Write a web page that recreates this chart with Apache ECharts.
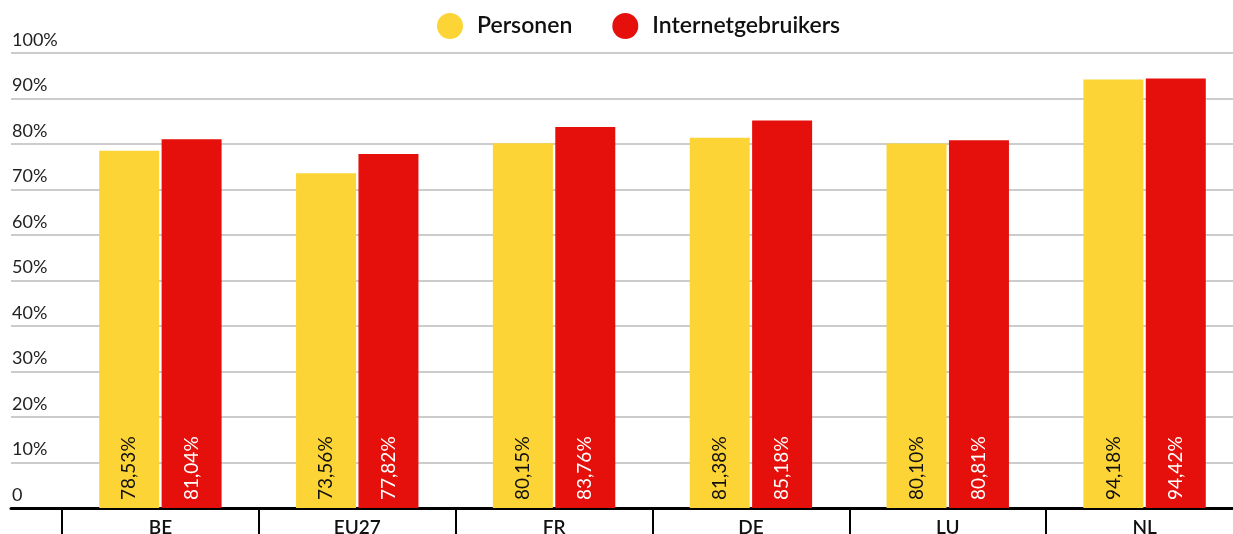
<!DOCTYPE html>
<html>
<head>
<meta charset="utf-8">
<script src="https://cdn.jsdelivr.net/npm/echarts@6/dist/echarts.min.js"></script>
<style>
  html, body { margin: 0; padding: 0; background: #fff; }
  #chart { width: 1233px; height: 534px; }
</style>
</head>
<body>
<div id="chart"></div>
<script>
const categories = ['BE', 'EU27', 'FR', 'DE', 'LU', 'NL']
const personen = [78.53, 73.56, 80.15, 81.38, 80.10, 94.18]
const gebruikers = [81.04, 77.82, 83.76, 85.18, 80.81, 94.42]
const seriesNames = ['Personen', 'Internetgebruikers']

const FONT = 'Lato, "DejaVu Sans", sans-serif'
const YELLOW = '#fdd435'
const RED = '#e5100c'

const pct = v => v.toFixed(2).replace('.', ',') + '%'

const barLabel = color => ({
  show: true,
  position: 'insideBottom',
  rotate: 90,
  align: 'left',
  verticalAlign: 'middle',
  distance: 8,
  color,
  fontFamily: FONT,
  fontSize: 19,
  formatter: p => pct(p.value)
})

const chart = echarts.init(document.getElementById('chart'))
chart.setOption({
  animation: false,
  textStyle: { fontFamily: FONT },
  legend: {
    left: 432,
    top: 8,
    icon: 'circle',
    itemWidth: 26,
    itemHeight: 26,
    itemGap: 40,
    textStyle: { fontSize: 23, fontWeight: 600, color: '#111', padding: [0, 0, 0, 9] },
    data: seriesNames
  },
  grid: [
    { left: 62, width: 1181, top: 53, bottom: 26, outerBoundsMode: 'none', containLabel: false },
    { left: 11, right: 0, top: 53, bottom: 26 }
  ],
  xAxis: [
    {
      type: 'category',
      gridIndex: 0,
      data: categories,
      axisLine: { show: false },
      axisTick: { show: true, length: 26, lineStyle: { color: '#000', width: 2 } },
      axisLabel: { color: '#111', fontSize: 19, fontWeight: 600, margin: 10 }
    },
    {
      type: 'category',
      gridIndex: 1,
      data: categories,
      axisLine: { show: true, lineStyle: { color: '#000', width: 3 } },
      axisTick: { show: false },
      axisLabel: { show: false }
    }
  ],
  yAxis: [
    {
      type: 'value',
      gridIndex: 0,
      min: 0,
      max: 100,
      interval: 10,
      axisLine: { show: false },
      axisTick: { show: false },
      axisLabel: { show: false },
      splitLine: { show: false }
    },
    {
      type: 'value',
      gridIndex: 1,
      min: 0,
      max: 100,
      interval: 10,
      axisLine: { show: false },
      axisTick: { show: false },
      splitLine: { lineStyle: { color: '#cccccc', width: 2 } },
      axisLabel: {
        inside: true,
        margin: 1,
        verticalAlign: 'bottom',
        padding: [0, 0, 4, 0],
        color: '#222',
        fontSize: 18,
        formatter: v => (v === 0 ? '0' : v + '%')
      }
    }
  ],
  series: [
    {
      name: seriesNames[0],
      type: 'bar',
      xAxisIndex: 0,
      yAxisIndex: 0,
      data: personen,
      itemStyle: { color: YELLOW },
      barWidth: 60,
      barGap: '4%',
      label: barLabel('#111')
    },
    {
      name: seriesNames[1],
      type: 'bar',
      xAxisIndex: 0,
      yAxisIndex: 0,
      data: gebruikers,
      itemStyle: { color: RED },
      barWidth: 60,
      barGap: '4%',
      label: barLabel('#fff')
    }
  ]
})
window.addEventListener('resize', () => chart.resize())
</script>
</body>
</html>
